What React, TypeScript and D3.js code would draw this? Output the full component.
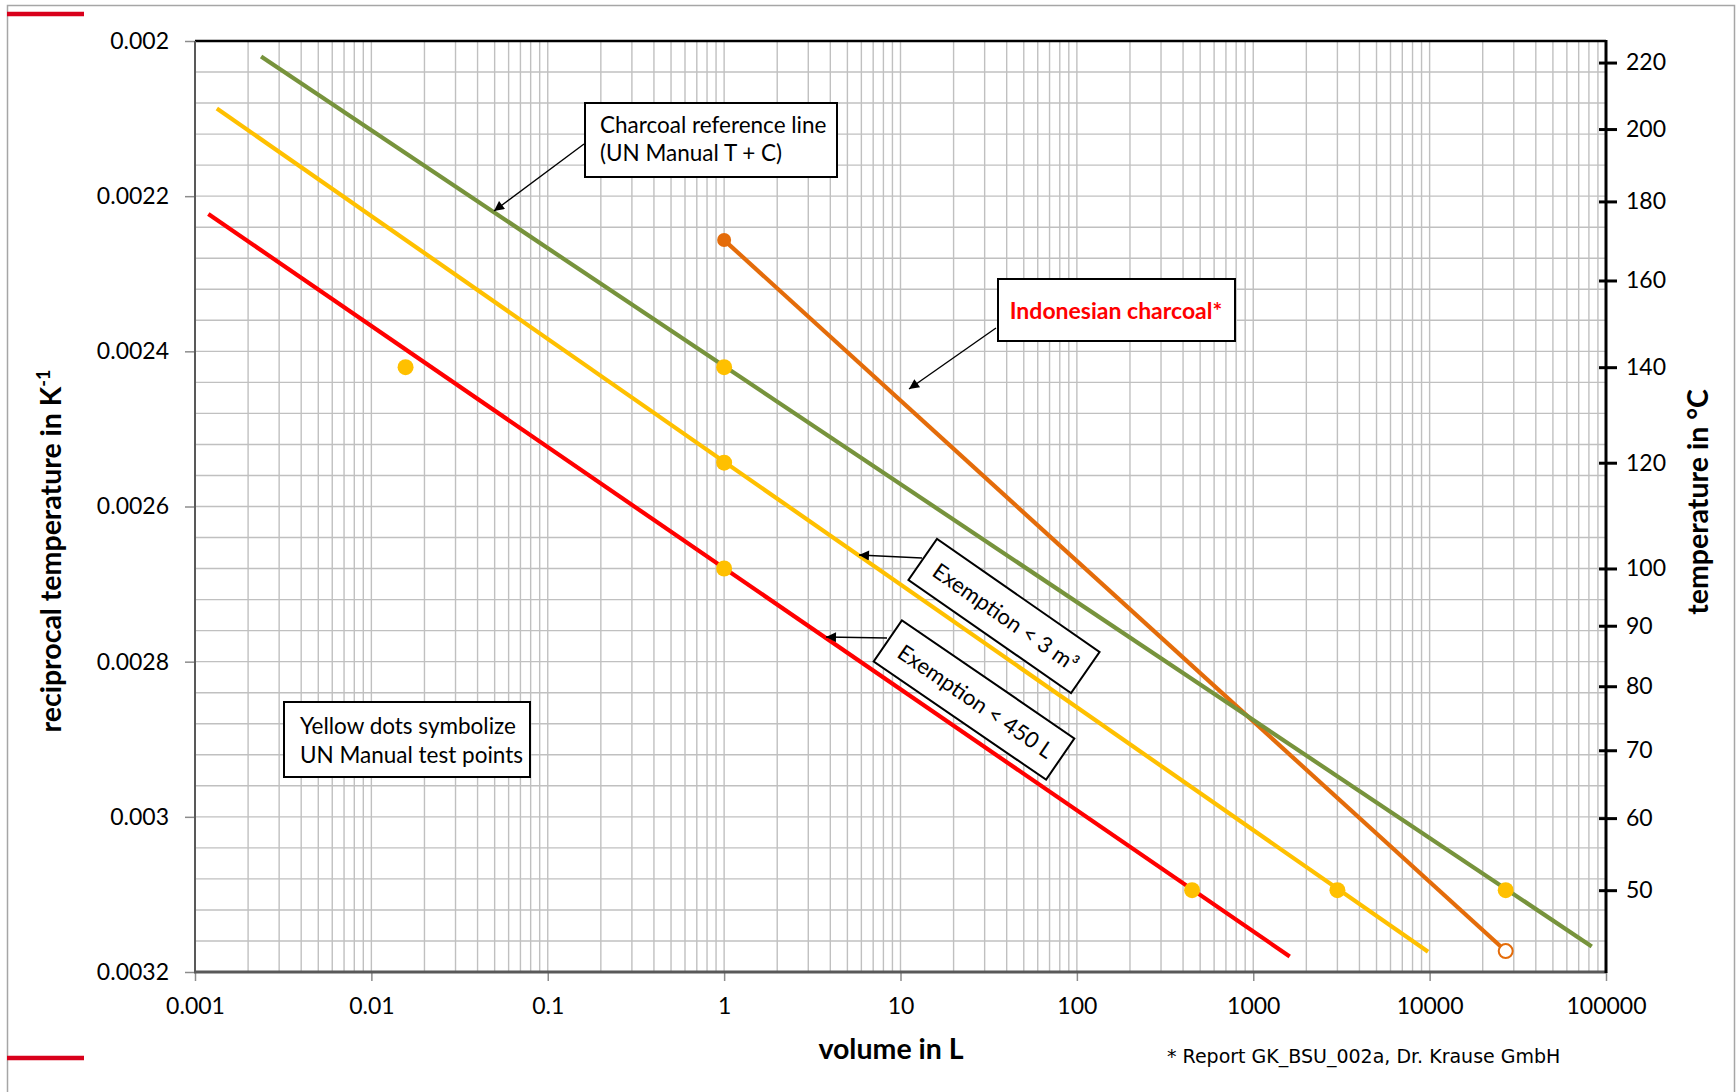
// Self-heating chart: reciprocal temperature vs. volume
import React, { useEffect, useRef } from "react";
import * as d3 from "d3";

// lines as [volume in L, reciprocal temperature in 1/K]
const referenceLine = [[0.00237, 0.00202], [83000, 0.003167]];
const exemption3m3 = [[0.00133, 0.002087], [9800, 0.003174]];
const exemption450L = [[0.00119, 0.002223], [1610, 0.00318]];
const indonesianLine = [[1, 0.0022566], [27000, 0.003173]];

// UN Manual test points as [volume in L, temperature in °C]
const testPoints = [[0.015625, 140], [1, 140], [1, 120], [1, 100], [450, 50], [3000, 50], [27000, 50]];
// Indonesian charcoal end points as [volume in L, temperature in °C]
const indonesianStart = [1, 170];
const indonesianEnd = [27000, 42];

const xTicks = [0.001, 0.01, 0.1, 1, 10, 100, 1000, 10000, 100000];
const xTickLabels = ["0.001", "0.01", "0.1", "1", "10", "100", "1000", "10000", "100000"];
const yTicks = [0.002, 0.0022, 0.0024, 0.0026, 0.0028, 0.003, 0.0032];
const yTickLabels = ["0.002", "0.0022", "0.0024", "0.0026", "0.0028", "0.003", "0.0032"];
const tempTicks = [220, 200, 180, 160, 140, 120, 100, 90, 80, 70, 60, 50];

const FONT = "Lato, 'Open Sans', sans-serif";
const recip = (t) => 1 / (t + 273.15);

export default function App() {
  const ref = useRef(null);

  useEffect(() => {
    const width = 1736;
    const height = 1092;
    const left = 195, top = 41, right = 1606, bottom = 972;

    const svg = d3.select(ref.current);
    svg.selectAll("*").remove();

    svg.append("rect").attr("width", width).attr("height", height).attr("fill", "white");
    // outer frame
    svg.append("rect")
      .attr("x", 7.5).attr("y", 5.5).attr("width", 1727).attr("height", 1100)
      .attr("fill", "none").attr("stroke", "#a6a6a6").attr("stroke-width", 1.5);
    svg.append("line").attr("x1", 7).attr("x2", 84).attr("y1", 14).attr("y2", 14)
      .attr("stroke", "#d9001b").attr("stroke-width", 4.5);
    svg.append("line").attr("x1", 7).attr("x2", 84).attr("y1", 1058).attr("y2", 1058)
      .attr("stroke", "#d9001b").attr("stroke-width", 4.5);

    const x = d3.scaleLog().domain([0.001, 100000]).range([left, right]);
    const y = d3.scaleLinear().domain([0.002, 0.0032]).range([top, bottom]);

    // grid
    const grid = svg.append("g").attr("stroke", "#c0c0c0").attr("stroke-width", 1.4);
    const vLines = [];
    for (let k = -3; k < 5; k++) {
      for (let m = 1; m < 10; m++) vLines.push(m * Math.pow(10, k));
    }
    vLines.push(100000);
    grid.selectAll(".v").data(vLines).enter().append("line")
      .attr("x1", (d) => x(d)).attr("x2", (d) => x(d))
      .attr("y1", top).attr("y2", bottom);
    const hLines = d3.range(0, 31).map((i) => 0.002 + i * 0.00004);
    grid.selectAll(".h").data(hLines).enter().append("line")
      .attr("x1", left).attr("x2", right)
      .attr("y1", (d) => y(d)).attr("y2", (d) => y(d));

    // axes
    const xAxis = svg.append("g")
      .attr("transform", `translate(0, ${bottom})`)
      .call(d3.axisBottom(x).tickValues(xTicks).tickFormat((d, i) => xTickLabels[i]).tickSize(9).tickPadding(17));
    xAxis.select(".domain").remove();
    xAxis.selectAll("line").attr("stroke", "#8c8c8c").attr("stroke-width", 1.5);
    xAxis.selectAll("text").attr("font-family", FONT).attr("font-size", 23).attr("fill", "#000");

    const yAxis = svg.append("g")
      .attr("transform", `translate(${left}, 0)`)
      .call(d3.axisLeft(y).tickValues(yTicks).tickFormat((d, i) => yTickLabels[i]).tickSize(10).tickPadding(16));
    yAxis.select(".domain").remove();
    yAxis.selectAll("line").attr("stroke", "#8c8c8c").attr("stroke-width", 1.5);
    yAxis.selectAll("text").attr("font-family", FONT).attr("font-size", 23).attr("fill", "#000");

    const rAxis = svg.append("g")
      .attr("transform", `translate(${right}, 0)`)
      .call(d3.axisRight(y).tickValues(tempTicks.map(recip)).tickFormat((d, i) => tempTicks[i]).tickSize(11).tickPadding(9));
    rAxis.select(".domain").remove();
    rAxis.selectAll("line").attr("x1", -7).attr("stroke", "#000").attr("stroke-width", 3);
    rAxis.selectAll("text").attr("font-family", FONT).attr("font-size", 23).attr("fill", "#000");

    // plot border lines
    svg.append("line").attr("x1", left).attr("x2", right).attr("y1", top).attr("y2", top)
      .attr("stroke", "#000").attr("stroke-width", 2.5);
    svg.append("line").attr("x1", left).attr("x2", left).attr("y1", top).attr("y2", bottom)
      .attr("stroke", "#595959").attr("stroke-width", 2);
    svg.append("line").attr("x1", left - 1).attr("x2", right).attr("y1", bottom).attr("y2", bottom)
      .attr("stroke", "#595959").attr("stroke-width", 3);
    svg.append("line").attr("x1", right).attr("x2", right).attr("y1", top - 1).attr("y2", bottom + 1)
      .attr("stroke", "#000").attr("stroke-width", 3);

    // series lines
    const line = d3.line().x((d) => x(d[0])).y((d) => y(d[1]));
    const series = [
      { data: exemption450L, color: "#ff0000" },
      { data: exemption3m3, color: "#ffc000" },
      { data: indonesianLine, color: "#e46c0a" },
      { data: referenceLine, color: "#77933c" },
    ];
    svg.selectAll(".series").data(series).enter().append("path")
      .attr("d", (d) => line(d.data))
      .attr("fill", "none").attr("stroke", (d) => d.color).attr("stroke-width", 4.2);

    // yellow test points
    svg.selectAll(".pt").data(testPoints).enter().append("circle")
      .attr("cx", (d) => x(d[0])).attr("cy", (d) => y(recip(d[1])))
      .attr("r", 8).attr("fill", "#ffc000");
    // indonesian charcoal markers
    svg.append("circle").attr("cx", x(indonesianStart[0])).attr("cy", y(recip(indonesianStart[1])))
      .attr("r", 7).attr("fill", "#e46c0a");
    svg.append("circle").attr("cx", x(indonesianEnd[0])).attr("cy", y(recip(indonesianEnd[1])))
      .attr("r", 7).attr("fill", "white").attr("stroke", "#e46c0a").attr("stroke-width", 2);

    // annotations
    const defs = svg.append("defs");
    defs.append("marker").attr("id", "arrow").attr("viewBox", "0 0 10 10")
      .attr("refX", 10).attr("refY", 5).attr("markerWidth", 15).attr("markerHeight", 10)
      .attr("markerUnits", "userSpaceOnUse").attr("orient", "auto")
      .append("path").attr("d", "M0,0 L10,5 L0,10 z").attr("fill", "#000");

    const arrow = (x1, y1, x2, y2) =>
      svg.append("line").attr("x1", x1).attr("y1", y1).attr("x2", x2).attr("y2", y2)
        .attr("stroke", "#000").attr("stroke-width", 1.4).attr("marker-end", "url(#arrow)");

    arrow(584, 144, 494, 211);
    arrow(996, 328, 909, 389);
    arrow(922, 558, 859, 555);
    arrow(887, 638, 826, 637);

    const box = (x0, y0, w, h) =>
      svg.append("rect").attr("x", x0).attr("y", y0).attr("width", w).attr("height", h)
        .attr("fill", "white").attr("stroke", "#000").attr("stroke-width", 2);

    box(585, 103, 252, 74);
    const t1 = svg.append("text").attr("font-family", FONT).attr("font-size", 22.5).attr("fill", "#000");
    t1.append("tspan").attr("x", 600).attr("y", 133).text("Charcoal reference line");
    t1.append("tspan").attr("x", 600).attr("y", 161).text("(UN Manual T + C)");

    box(998, 279, 237, 62);
    svg.append("text").attr("x", 1116).attr("y", 319).attr("text-anchor", "middle")
      .attr("font-family", FONT).attr("font-size", 23).attr("font-weight", "bold").attr("fill", "#ff0000")
      .text("Indonesian charcoal*");

    box(284, 702, 246, 75);
    const t2 = svg.append("text").attr("font-family", FONT).attr("font-size", 22.5).attr("fill", "#000");
    t2.append("tspan").attr("x", 300).attr("y", 734).text("Yellow dots symbolize");
    t2.append("tspan").attr("x", 300).attr("y", 763).text("UN Manual test points");

    const rotBox = (cx, cy, w, h, angle, label) => {
      const g = svg.append("g").attr("transform", `translate(${cx}, ${cy}) rotate(${angle})`);
      g.append("rect").attr("x", -w / 2).attr("y", -h / 2).attr("width", w).attr("height", h)
        .attr("fill", "white").attr("stroke", "#000").attr("stroke-width", 2);
      g.append("text").attr("x", 2).attr("y", 8).attr("text-anchor", "middle")
        .attr("font-family", FONT).attr("font-size", 22).attr("fill", "#000").text(label);
    };
    rotBox(1004, 616, 198, 50, 34.8, "Exemption < 3 m³");
    rotBox(974, 700, 209, 50, 34.4, "Exemption < 450 L");

    // axis titles
    svg.append("text").attr("x", 891).attr("y", 1059).attr("text-anchor", "middle")
      .attr("font-family", FONT).attr("font-size", 28.5).attr("font-weight", "bold").attr("fill", "#000")
      .text("volume in L");

    const yt = svg.append("text").attr("transform", "translate(61, 551) rotate(-90)")
      .attr("text-anchor", "middle").attr("font-family", FONT).attr("font-size", 28.5)
      .attr("font-weight", "bold").attr("fill", "#000");
    yt.append("tspan").text("reciprocal temperature in K");
    yt.append("tspan").attr("dy", -11).attr("font-size", 18).text("-1");

    svg.append("text").attr("transform", "translate(1708, 502) rotate(-90)")
      .attr("text-anchor", "middle").attr("font-family", FONT).attr("font-size", 28.5)
      .attr("font-weight", "bold").attr("fill", "#000").text("temperature in °C");

    svg.append("text").attr("x", 1167).attr("y", 1063)
      .attr("font-family", "'DejaVu Sans', Verdana, sans-serif").attr("font-size", 19).attr("fill", "#000")
      .text("* Report GK_BSU_002a, Dr. Krause GmbH");
  }, []);

  return (
    <div style={{ position: "absolute", left: 0, top: 0 }}>
      <svg ref={ref} width={1736} height={1092} style={{ display: "block" }} />
    </div>
  );
}
